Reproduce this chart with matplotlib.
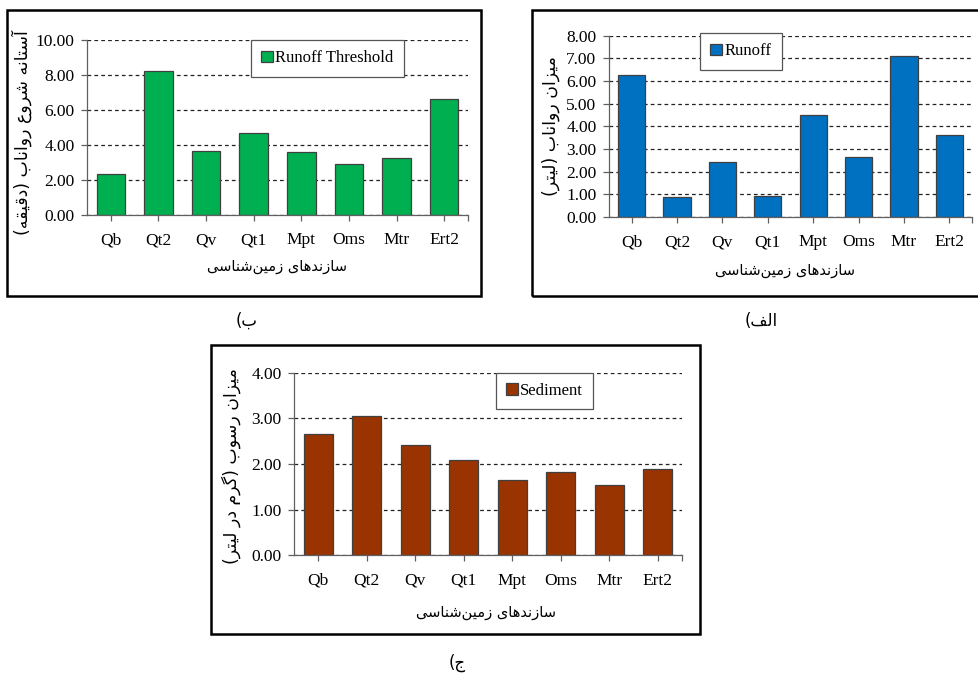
import matplotlib
matplotlib.use("Agg")
import matplotlib.pyplot as plt
from matplotlib.patches import Rectangle
from matplotlib.ticker import FixedLocator

plt.rcParams['font.family'] = ['Liberation Serif', 'DejaVu Sans']

categories = ["Qb", "Qt2", "Qv", "Qt1", "Mpt", "Oms", "Mtr", "Ert2"]
runoff = [6.27, 0.87, 2.41, 0.94, 4.49, 2.66, 7.09, 3.60]
threshold = [2.32, 8.21, 3.68, 4.70, 3.62, 2.91, 3.24, 6.65]
sediment = [2.66, 3.06, 2.42, 2.09, 1.64, 1.82, 1.55, 1.89]

xlabel_fa = "سازندهای زمین\u200cشناسی"
ylabel_threshold = "آستانه شروع رواناب (دقیقه)"
ylabel_runoff = "میزان رواناب (لیتر)"
ylabel_sediment = "میزان رسوب (گرم در لیتر)"
label_a = "الف)"
label_b = "ب)"
label_c = "ج)"

FORMS = {
    'ا': ('\uFE8D', '\uFE8E', None, None),
    'آ': ('\uFE81', '\uFE82', None, None),
    'ب': ('\uFE8F', '\uFE90', '\uFE91', '\uFE92'),
    'ت': ('\uFE95', '\uFE96', '\uFE97', '\uFE98'),
    'ج': ('\uFE9D', '\uFE9E', '\uFE9F', '\uFEA0'),
    'د': ('\uFEA9', '\uFEAA', None, None),
    'ر': ('\uFEAD', '\uFEAE', None, None),
    'ز': ('\uFEAF', '\uFEB0', None, None),
    'س': ('\uFEB1', '\uFEB2', '\uFEB3', '\uFEB4'),
    'ش': ('\uFEB5', '\uFEB6', '\uFEB7', '\uFEB8'),
    'ع': ('\uFEC9', '\uFECA', '\uFECB', '\uFECC'),
    'ف': ('\uFED1', '\uFED2', '\uFED3', '\uFED4'),
    'ق': ('\uFED5', '\uFED6', '\uFED7', '\uFED8'),
    'ل': ('\uFEDD', '\uFEDE', '\uFEDF', '\uFEE0'),
    'م': ('\uFEE1', '\uFEE2', '\uFEE3', '\uFEE4'),
    'ن': ('\uFEE5', '\uFEE6', '\uFEE7', '\uFEE8'),
    'ه': ('\uFEE9', '\uFEEA', '\uFEEB', '\uFEEC'),
    'و': ('\uFEED', '\uFEEE', None, None),
    'ی': ('\uFBFC', '\uFBFD', '\uFBFE', '\uFBFF'),
    'گ': ('\uFB92', '\uFB93', '\uFB94', '\uFB95'),
}
MIRROR = {'(': ')', ')': '('}


def fa(text):
    out = []
    n = len(text)
    for i, c in enumerate(text):
        if c == '\u200c':
            continue
        if c not in FORMS:
            out.append(MIRROR.get(c, c))
            continue
        prev = text[i - 1] if i > 0 else None
        nxt = text[i + 1] if i < n - 1 else None
        jp = prev in FORMS and FORMS[prev][2] is not None
        jn = nxt in FORMS and FORMS[c][2] is not None
        iso, fin, ini, med = FORMS[c]
        if jp and jn:
            out.append(med)
        elif jp:
            out.append(fin)
        elif jn:
            out.append(ini)
        else:
            out.append(iso)
    return ''.join(reversed(out))


W, H = 979, 675
fig = plt.figure(figsize=(W / 100, H / 100), dpi=100)


def fr(x0, y0, x1, y1):
    return [x0 / W, 1 - y1 / H, (x1 - x0) / W, (y1 - y0) / H]


def frame(x0, y0, x1, y1):
    fig.patches.append(Rectangle((x0 / W, 1 - y1 / H), (x1 - x0) / W, (y1 - y0) / H,
                                 transform=fig.transFigure, fill=False,
                                 edgecolor='black', linewidth=1.8, zorder=0))


def panel(rect, values, color, ymax, ystep, legend_name, legend_anchor, ylabel,
          ylabel_pos, xlabel_pos):
    ax = fig.add_axes(fr(*rect))
    x = list(range(len(categories)))
    ax.bar(x, values, width=0.6, color=color, edgecolor='#404040', linewidth=0.9,
           label=legend_name, zorder=2)
    ax.set_xlim(-0.5, len(categories) - 0.5)
    ax.set_ylim(0, ymax)
    ticks = [i * ystep for i in range(int(round(ymax / ystep)) + 1)]
    ax.set_yticks(ticks)
    ax.set_yticklabels(["%.2f" % t for t in ticks], fontsize=12.5)
    ax.set_xticks(x)
    ax.set_xticklabels(categories, fontsize=12.5)
    ax.xaxis.set_minor_locator(FixedLocator([len(categories) - 0.5]))
    ax.tick_params(axis='x', which='both', direction='out', length=4.5, width=0.9,
                   color='#606060', pad=8)
    ax.tick_params(axis='y', direction='out', length=4, width=0.9, color='#606060', pad=5)
    for s in ['top', 'right']:
        ax.spines[s].set_visible(False)
    for s in ['left', 'bottom']:
        ax.spines[s].set_color('#606060')
        ax.spines[s].set_linewidth(0.9)
    ax.set_axisbelow(True)
    ax.yaxis.grid(True, linestyle=(0, (3, 2.5)), color='#222222', linewidth=0.9)
    ax.set_facecolor('none')
    leg = ax.legend(loc='upper left', bbox_to_anchor=legend_anchor, borderaxespad=0,
                    fontsize=12, frameon=True, fancybox=False, framealpha=1,
                    edgecolor='#555555', handlelength=0.7, handleheight=0.7,
                    handletextpad=0.15, borderpad=0.62)
    leg.get_frame().set_linewidth(0.9)
    leg.set_zorder(5)
    fig.text(ylabel_pos[0] / W, 1 - ylabel_pos[1] / H, fa(ylabel), rotation=90,
             ha='center', va='center', fontsize=12.5, family=['DejaVu Sans'])
    fig.text(xlabel_pos[0] / W, 1 - xlabel_pos[1] / H, fa(xlabel_fa),
             ha='center', va='center', fontsize=10.5, family=['DejaVu Sans'])
    return ax


# frames
frame(7, 10, 481.5, 296)
frame(532, 10, 990, 296)
frame(211, 345, 700, 634)

# panel b (threshold)
panel((87, 40, 468, 215), threshold, '#00B050', 10, 2, 'Runoff Threshold',
      (0.43, 1.0), ylabel_threshold, (22, 133), (277, 267))
# panel alef (runoff)
panel((609, 35.7, 972, 217), runoff, '#0070C0', 8, 1, 'Runoff',
      (0.25, 1.015), ylabel_runoff, (551, 126), (785, 270))
# panel jim (sediment)
panel((294, 372.7, 682, 555.3), sediment, '#993300', 4, 1, 'Sediment',
      (0.52, 1.0), ylabel_sediment, (231, 466), (486, 612))

fig.text(247 / W, 1 - 321 / H, fa(label_b), ha='center', va='center', fontsize=12,
         family=['DejaVu Sans'])
fig.text(761 / W, 1 - 321 / H, fa(label_a), ha='center', va='center', fontsize=12,
         family=['DejaVu Sans'])
fig.text(457 / W, 1 - 663 / H, fa(label_c), ha='center', va='center', fontsize=12,
         family=['DejaVu Sans'])

fig.savefig("out.png", dpi=100, facecolor='white')
